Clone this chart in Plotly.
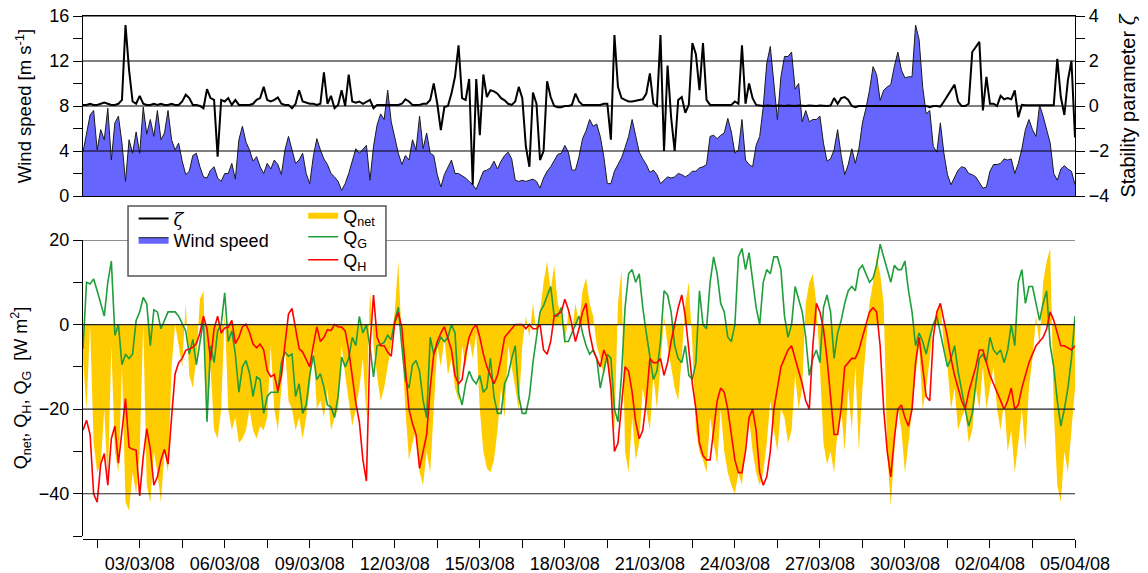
import plotly.graph_objects as go
import pandas as pd

START = "2008-03-01 00:00"
STEP = "3h"
X_RANGE = ["2008-03-01", "2008-04-05"]

# wind speed [m/s], 3-hourly from 01/03/08
wind_speed = [
    3.9, 5.6, 7.2, 7.6, 4.1, 5.9, 5.0, 7.8,
    3.2, 6.5, 7.1, 4.7, 1.3, 5.0, 3.8, 5.7,
    3.8, 7.9, 5.5, 6.8, 5.3, 7.6, 5.0, 5.6,
    7.6, 5.0, 4.1, 4.7, 3.1, 1.9, 2.2, 3.6,
    3.8, 2.6, 1.7, 1.6, 2.3, 2.6, 1.6, 1.3,
    2.0, 2.0, 2.9, 1.5, 5.0, 6.2, 4.8, 4.1,
    3.1, 3.5, 2.6, 2.0, 2.9, 2.4, 3.2, 2.8,
    1.9, 4.1, 5.3, 4.1, 2.9, 3.2, 3.8, 2.0,
    1.1, 3.5, 5.1, 4.1, 3.3, 2.8, 2.0, 1.7,
    1.3, 0.5, 1.1, 2.0, 3.1, 4.2, 3.8, 4.2,
    4.5, 1.4, 4.4, 6.3, 7.3, 6.8, 9.4, 6.6,
    5.1, 3.8, 2.8, 3.6, 3.2, 5.0, 4.1, 7.1,
    4.2, 5.6, 3.8, 3.6, 1.9, 0.8, 1.9, 2.6,
    3.2, 2.0, 2.0, 1.8, 1.6, 1.3, 1.0, 0.6,
    1.4, 2.2, 2.3, 2.5, 3.1, 2.4, 3.1, 3.6,
    3.9, 3.3, 1.4, 1.3, 1.4, 1.3, 1.4, 1.5,
    1.3, 0.7, 1.6, 2.2, 2.6, 3.1, 3.7, 3.8,
    4.5, 3.9, 2.3, 2.3, 3.5, 5.1, 5.8, 6.8,
    6.2, 6.4, 5.3, 3.5, 1.1, 1.1, 2.2, 2.8,
    3.4, 4.3, 5.3, 6.8, 5.3, 3.9, 3.3, 2.8,
    2.1, 2.3, 1.9, 1.1, 1.4, 1.7, 1.6, 1.7,
    2.0, 1.9, 1.7, 1.9, 2.2, 2.2, 2.5, 2.6,
    2.8, 5.3, 5.4, 5.1, 5.4, 5.6, 6.9, 5.7,
    3.8, 4.1, 6.8, 3.2, 2.8, 2.6, 4.5, 5.3,
    7.9, 11.8, 13.3, 10.2, 6.8, 10.6, 12.4, 12.4,
    12.8, 9.5, 10.0, 6.6, 7.6, 6.6, 6.8, 6.8,
    7.1, 4.7, 3.1, 3.3, 4.1, 5.9, 3.6, 1.9,
    2.8, 4.2, 2.9, 4.2, 6.5, 7.8, 9.4, 11.5,
    10.8, 8.5, 9.4, 9.7, 9.9, 11.5, 12.8, 11.2,
    10.5, 10.6, 10.6, 15.2, 13.9, 9.7, 7.3, 7.6,
    4.4, 3.9, 6.5, 3.8, 1.9, 1.0, 1.6, 2.3,
    2.6, 2.5, 2.0, 1.9, 1.7, 1.2, 0.7, 0.8,
    2.2, 2.8, 2.8, 2.9, 3.3, 3.2, 3.3, 2.0,
    2.9, 4.2, 5.9, 6.8, 5.9, 5.3, 8.1, 7.1,
    6.0, 4.7, 2.0, 1.4, 2.4, 2.7, 2.4, 2.2,
    1.0,
]

# stability parameter zeta, 3-hourly
stability = [
    0.05, 0.05, 0.1, 0.05, 0.05, 0.1, 0.15, 0.1,
    0.05, 0.05, 0.1, 0.27, 3.6, 1.6, 0.2, 0.1,
    0.45, 0.1, 0.05, 0.05, 0.1, 0.05, 0.1, 0.05,
    0.05, 0.1, 0.05, 0.05, 0.2, 0.5, 0.35, 0.05,
    0.05, 0.0, -0.1, 0.75, 0.35, 0.27, -2.25, 0.27,
    0.2, 0.35, 0.05, 0.27, 0.05, 0.05, 0.05, 0.05,
    0.1, 0.27, 0.35, 0.85, 0.27, 0.2, 0.27, 0.38,
    0.1, 0.05, 0.05, -0.1, 0.1, 0.7, 0.2, 0.15,
    0.1, 0.1, 0.05, 0.1, 1.5, 0.1, 0.45, -0.1,
    0.05, 0.7, 0.0, 1.4, 0.2, 0.15, 0.2, 0.1,
    0.2, 0.27, -0.1, 0.05, 0.05, 0.05, 0.05, 0.05,
    0.05, 0.05, 0.1, 0.3, 0.2, 0.05, 0.05, 0.05,
    0.1, 0.1, 0.27, 1.0, 0.1, -1.07, -0.05, 0.0,
    0.55, 1.3, 2.7, 0.35, 0.27, 1.2, -3.5, 1.2,
    -1.3, 1.4, 0.4, 0.7, 0.65, 0.55, 0.35, 0.25,
    0.1, 0.05, 0.2, 0.85, 0.35, -1.8, -2.7, 0.6,
    0.1, -2.4, -2.0, 1.1, 0.4, 0.0, -0.05, -0.05,
    0.0, 0.0, 0.05, 0.55, 0.2, 0.05, 0.05, 0.05,
    0.05, 0.05, 0.05, 0.1, 0.1, -1.5, 3.15, 0.85,
    0.35, 0.27, 0.2, 0.2, 0.25, 0.27, 0.3, 0.55,
    1.45, 0.1, 0.0, 3.15, -2.0, 1.8, -0.5, -2.0,
    0.27, 0.4, -0.3, 0.05, 2.8, 2.3, 0.7, 2.8,
    0.27, 0.05, 0.05, 0.05, 0.05, 0.05, 0.05, 0.05,
    0.2, 0.1, 2.7, 0.1, 1.0, 0.35, 0.05, 0.02,
    0.0, 0.02, 0.0, 0.0, 0.02, 0.0, 0.0, 0.02,
    0.0, 0.0, 0.02, 0.0, 0.0, 0.02, 0.0, 0.0,
    0.02, 0.0, 0.0, 0.02, 0.35, 0.1, 0.35, 0.4,
    0.27, 0.0, -0.05, 0.0, 0.0, 0.02, 0.0, 0.0,
    0.02, 0.0, 0.0, 0.02, 0.0, 0.0, 0.02, 0.0,
    0.0, 0.02, 0.0, 0.0, 0.02, 0.0, 0.0, -0.05,
    0.0, 0.0, -0.03, 0.2, 0.45, 0.65, 0.95, 0.2,
    0.0, 0.0, 0.1, 2.4, 2.65, 2.85, -0.2, 1.3,
    0.1, 0.1, 0.0, 0.45, 0.3, 0.35, 0.3, 0.7,
    -0.5, 0.05, 0.03, 0.03, 0.03, 0.03, 0.03, 0.03,
    0.03, 0.03, 0.03, 2.1, 0.4, -0.4, 1.15, 2.0,
    -1.4,
]

# net radiation Q_net [W m-2], 3-hourly
q_net = [
    -8, -20, 0, -28, -35, -33, -20, -38,
    -5, -30, -35, -10, -42, -44, -35, -40,
    -30, 0, -38, -42, -30, -35, -42, -30,
    -35, -10, 0, -5, -10, 5, -12, -15,
    -8, 6, 8, -22, -10, -25, -27, -20,
    3, -20, -25, -22, -28, -27, -25, -20,
    -25, -27, -24, -25, -22, -5, -20, -25,
    -15, -5, -18, -20, -25, -22, -27, -22,
    -15, -5, -20, -18, -22, -15, -25, -22,
    -20, -5, -12, -18, -24, -20, -15, -8,
    -22, 8, -5, -12, -18, -15, -10, -5,
    3, 15, -5, -20, -32, -28, -25, -35,
    -38, -30, -35, -20, -5, -10, -3, -12,
    -8, -15, -18, -5, -10, -3, -8, -2,
    -20, -30, -34, -35, -32, -25, -15, -22,
    -5, -10, -15, -20, -5, 2, -3, 5,
    -2, 3, 10, 15, 8, 14, 5, 2,
    -5, 3, -2, 5, 0, 8, 11, 5,
    2, -5, -8, -12, -8, -15, -25, 5,
    13, -30, -35, -22, -32, -28, -15, -20,
    -25, -12, -20, -10, 2, -5, -10, -15,
    -18, -8, 5, 10, -5, -25, -30, -32,
    -35, -22, -28, -33, -20, -30, -35, -38,
    -40, -35, -38, -28, -22, -30, -35, -38,
    -35, -28, -18, -25, -30, -20, -22, -28,
    -25, -12, -20, -15, 5, 10, 12, 5,
    -10, -28, -33, -30, -35, -25, -20, -30,
    -15, -25, -10, -30, -15, -5, 5, 10,
    16, 12, 5, -30, -43, -30, -20, -25,
    -35, -28, -20, -12, -5, -20, -15, -8,
    0, 3, 5, -5, -10, -20, -15, -25,
    -22, -20, -28, -25, -15, -20, -10, -20,
    -15, -10, -20, -25, -18, -30, -25, -35,
    -28, -20, -30, -15, -8, 2, -5, 10,
    15, 18, -20, -38, -42, -30, -35, -25,
    -15,
]

# ground heat flux Q_G [W m-2], 3-hourly
q_g = [
    -5.7, 10, 9.6, 10.8, 8.0, 5, 2, 10,
    15, -2.5, 0, -9.5, -7, -8, -7, 1,
    3, 6.4, 4.9, -5, 3.5, 3, -1, 1,
    3, 3, 3, 2, 0.2, -1.5, -7, -3.5,
    -9.5, -4, 1, -23, -5, -9, -1.5, 0,
    7.5, -4, -1.5, -7, -16, -10, -8.5, -11.5,
    -17, -12.4, -13, -21, -17, -16, -16, -16,
    -9, -6.5, -7.5, -7, -17, -14, -21, -19,
    -12, -7.3, -13, -11.6, -14.8, -19, -19.5, -22,
    -17, -7.7, -10, -8, -3, -5, 1.9, -2,
    0, -5.3, -12.4, -5, -4.7, -4.2, -2.5, -3.6,
    1, 4.1, -5.3, -13.2, -15, -9.5, -8.5, -11,
    -18, -22, -3, -7, -5, -3, -4, -3,
    0, -2, -16, -19, -14, -11, -13, -14,
    -12, -16, -15, -8, -17, -21, -21, -14,
    -12, -8, -5, -17, -21, -21, -17, -9,
    -3, 3, 4.5, 7, 9, 2, 2, 4,
    -4, -4, -2, 0, 2, -2, -5, -7,
    -6, -8, -15, -11, -7, -8, -20, -23,
    -12, 4, 12, 13, 10, 12, 4, -2,
    -8, -13, -11, -4, 8, 7, 3, -5,
    -8, -9, -5, -12, -13, -9, 8, 0,
    -1, 10, 16, 12, 5, 3, -3, -4,
    0, 16, 18, 13, 17, 10, 4, 0,
    10, 13, 12, 16, 16, 13, 2, -3,
    0, 9, 6, 3, -3, -12, -8, -6,
    -9, 4, 7, 3, -8, -2, 1, 5,
    8, 9, 8, 13, 14, 12, 10, 11,
    14, 19, 16, 13, 10, 14, 13, 13,
    15, 8, 3, -5, -2, -4, -7, -3,
    0, 2, -2, -6, -10, -8, -5, -11,
    -16, -20, -24, -21, -14, -8, -7, -9,
    -3, -6, -7, -6, -9, -6, 0, -5,
    10, 13, 5, 9, 9, 5, 1, 5,
    8, -5, -10, -18, -24, -20, -15, -8,
    2,
]

# sensible heat flux Q_H [W m-2], 3-hourly
q_h = [
    -25, -22.6, -26, -40, -42, -33, -30.5, -38,
    -27, -24, -32.8, -25, -17.5, -29, -29.5, -29.7,
    -40.5, -31.3, -24.6, -29.5, -38, -36, -32, -29.5,
    -33, -22, -11.6, -9, -8, -6.1, -5.7, -5.4,
    -4.5, -2, 2, -1, -8.5, -1, 2, -2,
    -0.8, -0.6, 1, -4.5, -3, -0.5, 0.1, -1.8,
    -4.6, -5.5, -4.6, -6, -10.9, -12.3, -11.8, -15.7,
    -12, -4, 2.5, 3.8, -0.5, -5.7, -6.5, -8.3,
    -10, -5, -0.5, -4, -3, -1.2, -1.4, 0,
    -0.5, -0.6, -1.5, -6, -12, -18.5, -23, -32,
    -37, -5, 7, -3, -5, -5, -6.5, -7.5,
    0.5, 2.9, -0.7, -11, -20, -23.4, -26, -34,
    -30, -26, -15, -7, -4, -2, -0.5, -3,
    -6, -12, -14, -13, -7, -3, -1, 0,
    -3, -7, -10, -12, -14, -12, -8, -3,
    -2, -1, 0, 0, 0, -1, 0, -1,
    -1, 0, -6, -7, -4, 2, 2.5, 3,
    6, 3.5, 0, -4, -1, 3, 5, -2,
    -6, -8, -10, -6, -8, -15, -30, -28,
    -18, -10, -11, -16, -23, -27, -25, -18,
    -8, -9, -9, -8, -12, -9, -4, 0,
    4, 7, 2, -6, -14, -20, -28, -31,
    -32, -32, -25, -18, -15, -16, -20, -26,
    -32, -35, -35, -30, -22, -20, -25, -35,
    -38, -36, -30, -20, -15, -10, -8, -6,
    -5, -8, -11, -14, -18, -20, -5, 5,
    3, -1, -8, -17, -26, -26, -20, -10,
    -9, -8, -8, -6, -3, 0, 3, 4,
    3, -5, -20, -30, -36, -27, -20, -19,
    -22, -24, -20, -9, -3, -10, -17, -18,
    -3, 3, 5, 1, -3, -8, -12, -15,
    -18, -20, -16, -13, -10, -6, -6, -9,
    -12, -14, -16, -18, -20, -18, -15, -20,
    -19, -15, -12, -9, -7, -5, -4, -3,
    -1, 3, 1, -2, -5, -5, -5.5, -6,
    -5,
]

wind_grid = [4, 8, 12, 16]
flux_grid = [20, 0, -20, -40]
date_label_start = "2008-03-03"
date_minor_start = "2008-03-01 12:00"
DAY_MS = 86400000


def times(values):
    return pd.date_range(START, periods=len(values), freq=STEP)


ZETA = '<span style="font-family:DejaVu Serif"><i>ζ</i></span>'

fig = go.Figure()
fig.add_trace(go.Scatter(
    x=times(wind_speed), y=wind_speed, xaxis="x", yaxis="y", mode="lines",
    line=dict(color="#1a1a1a", width=1), fill="tozeroy", fillcolor="#6666FF",
    name="Wind speed", legend="legend2"))
fig.add_trace(go.Scatter(
    x=times(stability), y=stability, xaxis="x", yaxis="y2", mode="lines",
    line=dict(color="black", width=2), name=ZETA, legend="legend"))
fig.add_trace(go.Scatter(
    x=times(q_net), y=q_net, xaxis="x2", yaxis="y3", mode="none",
    fill="tozeroy", fillcolor="#FFCC00", name="Q<sub>net</sub>", legend="legend3"))
fig.add_trace(go.Scatter(
    x=times(q_g), y=q_g, xaxis="x2", yaxis="y3", mode="lines",
    line=dict(color="#1f9e3a", width=1.6), name="Q<sub>G</sub>", legend="legend4"))
fig.add_trace(go.Scatter(
    x=times(q_h), y=q_h, xaxis="x2", yaxis="y3", mode="lines",
    line=dict(color="#ff0000", width=1.6), name="Q<sub>H</sub>", legend="legend5"))

ax = dict(showline=True, linecolor="black", linewidth=1.2, ticks="outside",
          ticklen=9, tickwidth=1.2, tickcolor="black", showgrid=False,
          zeroline=False, tickfont=dict(size=18), automargin=False)
minor = dict(ticks="outside", ticklen=9, tickwidth=1.2, tickcolor="black", showgrid=False)

shapes = []
for v in wind_grid:
    shapes.append(dict(type="line", xref="x domain", yref="y", x0=0, x1=1, y0=v, y1=v,
                       line=dict(color="black", width=1.2), layer="above"))
for v in flux_grid:
    shapes.append(dict(type="line", xref="x2 domain", yref="y3", x0=0, x1=1, y0=v, y1=v,
                       line=dict(color="#222222", width=1.2), layer="above"))
shapes.append(dict(type="rect", xref="paper", yref="paper", x0=0.0454, x1=0.3054,
                   y0=0.503, y1=0.6367, line=dict(color="#555555", width=1.5),
                   fillcolor="white", layer="above"))


def leg(x, y):
    return dict(x=x, y=y, xanchor="left", yanchor="middle", bgcolor="rgba(0,0,0,0)",
                font=dict(size=18), itemwidth=30, borderwidth=0)


fig.update_layout(
    width=1148, height=573, margin=dict(l=83, r=73, t=16, b=34, autoexpand=False),
    paper_bgcolor="white", plot_bgcolor="white",
    font=dict(family="Liberation Sans, Arial, sans-serif", size=18, color="black"),
    showlegend=True,
    xaxis=dict(domain=[0, 1], anchor="y", type="date", range=X_RANGE, showline=True,
               mirror=True, linecolor="black", linewidth=1.2, ticks="",
               showticklabels=False, showgrid=False, zeroline=False, automargin=False),
    yaxis=dict(domain=[0.6558, 1], anchor="x", range=[0, 16], tick0=0, dtick=4,
               minor=dict(dtick=2, **minor),
               title=dict(text="Wind speed [m s<sup>-1</sup>]", standoff=12,
                          font=dict(size=18.5)), **ax),
    yaxis2=dict(overlaying="y", side="right", anchor="x", range=[-4, 4], tick0=0, dtick=2,
                minor=dict(dtick=1, **minor),
                title=dict(text="Stability parameter " + ZETA, standoff=12,
                           font=dict(size=20)), **ax),
    xaxis2=dict(domain=[0, 1], anchor="free", position=0, type="date", range=X_RANGE,
                tick0=date_label_start, dtick=3 * DAY_MS, tickformat="%d/%m/%y",
                showline=True, linecolor="black", linewidth=1.2, ticks="outside",
                ticklen=8, tickwidth=1.2, tickcolor="black", showgrid=False,
                zeroline=False, tickfont=dict(size=18), automargin=False,
                minor=dict(tick0=date_minor_start, dtick=1.5 * DAY_MS, ticks="outside",
                           ticklen=8, tickwidth=1.2, tickcolor="black", showgrid=False)),
    yaxis3=dict(domain=[0.0057, 0.5717], anchor="x2", range=[-50, 20], tick0=0, dtick=20,
                minor=dict(dtick=10, **minor),
                title=dict(text="Q<sub>net</sub>, Q<sub>H</sub>, Q<sub>G</sub>  [W m<sup>2</sup>]",
                           standoff=6, font=dict(size=18)), **ax),
    legend=leg(0.051, 0.612),
    legend2=leg(0.051, 0.5717),
    legend3=leg(0.222, 0.6177),
    legend4=leg(0.222, 0.5774),
    legend5=leg(0.222, 0.5334),
    shapes=shapes,
)

fig.write_html(
    "out.html",
    config={"displayModeBar": False},
    post_script="document.body.style.margin='0px';document.body.style.overflow='hidden';",
)
